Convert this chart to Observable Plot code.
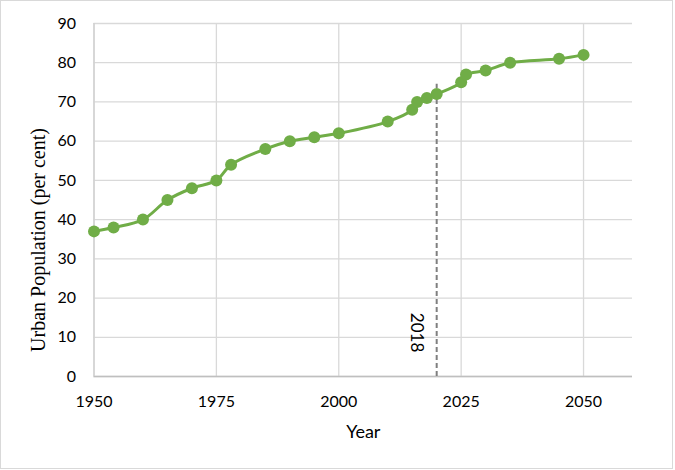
<!DOCTYPE html>
<html>
<head>
<meta charset="utf-8">
<script src="https://cdn.jsdelivr.net/npm/d3@7"></script>
<script src="https://cdn.jsdelivr.net/npm/@observablehq/plot@0.6"></script>
<style>
  html, body { margin: 0; padding: 0; background: #fff; }
  #wrap { position: relative; width: 675px; height: 470px; }
  #border { position: absolute; left: 0; top: 0; width: 671px; height: 467px; border: 1px solid #d9d9d9; pointer-events: none; }
</style>
</head>
<body>
<div id="wrap"><div id="chart"></div><div id="border"></div></div>
<script>
const years = [1950, 1954, 1960, 1965, 1970, 1975, 1978, 1985, 1990, 1995, 2000, 2010, 2015, 2016, 2018, 2020, 2025, 2026, 2030, 2035, 2045, 2050];
const urbanPct = [37, 38, 40, 45, 48, 50, 54, 58, 60, 61, 62, 65, 68, 70, 71, 72, 75, 77, 78, 80, 81, 82];
const xTicks = [1950, 1975, 2000, 2025, 2050];
const yTicks = [0, 10, 20, 30, 40, 50, 60, 70, 80, 90];
const markerYear = [2020];
const markerTop = [74.5];
const markerLabel = ["2018"];
const xTitle = "Year";
const yTitle = "Urban Population (per cent)";

const data = years.map((y, i) => ({year: y, pct: urbanPct[i]}));
const marker = markerYear.map((y, i) => ({year: y, top: markerTop[i], label: markerLabel[i]}));

const green = "#70ad47";
const chart = Plot.plot({
  width: 675,
  height: 470,
  marginLeft: 93.5,
  marginRight: 43,
  marginTop: 23,
  marginBottom: 94,
  x: {domain: [1950, 2060]},
  y: {domain: [0, 90]},
  style: {fontFamily: "Lato, sans-serif", fontSize: "16px", color: "#000", background: "transparent"},
  marks: [
    Plot.gridX(xTicks, {stroke: "#d9d9d9", strokeOpacity: 1, strokeWidth: 1.3}),
    Plot.gridY(yTicks, {stroke: "#d9d9d9", strokeOpacity: 1, strokeWidth: 1.3}),
    Plot.ruleY([0], {stroke: "#bfbfbf", strokeWidth: 1.3}),
    Plot.ruleX([1950], {stroke: "#d0d0d0", strokeWidth: 1.3}),
    Plot.axisX(xTicks, {tickSize: 0, tickPadding: 19, tickFormat: d => String(d), label: null, fontSize: 16}),
    Plot.axisY(yTicks, {tickSize: 0, tickPadding: 18, label: null, fontSize: 16}),
    Plot.ruleX(marker, {x: "year", y1: 0, y2: "top", stroke: "#7f7f7f", strokeWidth: 2, strokeDasharray: "5,3"}),
    Plot.text(marker, {x: "year", y: 11.2, text: "label", rotate: 90, dx: -20, fontSize: 17, fill: "#000"}),
    Plot.line(data, {x: "year", y: "pct", curve: "catmull-rom", stroke: green, strokeWidth: 3}),
    Plot.dot(data, {x: "year", y: "pct", r: 6, fill: green, stroke: "none"}),
    Plot.text([xTitle], {text: d => d, frameAnchor: "bottom", lineAnchor: "middle", dy: 56, fontSize: 18, fill: "#000"}),
    Plot.text([yTitle], {text: d => d, frameAnchor: "left", textAnchor: "middle", rotate: -90, dx: -55, dy: 40, fontSize: 20, fontFamily: "Liberation Serif, serif", fill: "#000"})
  ]
});
document.getElementById("chart").appendChild(chart);
</script>
</body>
</html>
